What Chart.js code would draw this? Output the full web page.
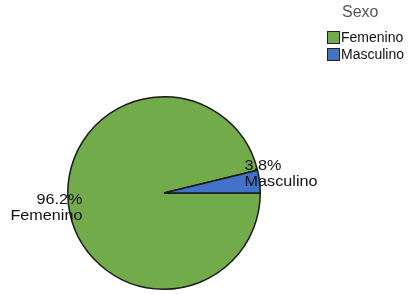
<!DOCTYPE html>
<html>
<head>
<meta charset="utf-8">
<script src="https://cdn.jsdelivr.net/npm/chart.js@4"></script>
<style>
  html, body { margin: 0; padding: 0; background: #fff; }
  #wrap { width: 412px; height: 294px; position: relative; }
</style>
</head>
<body>
<div id="wrap"><canvas id="pieChart" width="412" height="294"></canvas></div>
<script>
// data
const categories = ["Femenino", "Masculino"];
const percents = [96.2, 3.8];
const sliceColors = ["#72ab49", "#4373c8"];
const legendTitle = "Sexo";

// label placement per slice (offset from the arc midpoint on the rim)
const labelAlign = ["right", "left"];
const labelOffsetX = [14, -15];
const labelOffsetY = [-5, -16];

// Slice labels drawn at the outer edge of each arc
const sliceLabels = {
    id: "sliceLabels",
    afterDatasetsDraw(chart) {
        const ctx = chart.ctx;
        const meta = chart.getDatasetMeta(0);
        const stretch = 1.08; // reference text is a bit wider
        meta.data.forEach((arc, i) => {
            const mid = (arc.startAngle + arc.endAngle) / 2;
            const px = arc.x + Math.cos(mid) * arc.outerRadius;
            const py = arc.y + Math.sin(mid) * arc.outerRadius;
            const x = px + labelOffsetX[i];
            const y = py + labelOffsetY[i];
            ctx.save();
            ctx.translate(x, y);
            ctx.scale(stretch, 1);
            ctx.font = "15px 'Liberation Sans', Arial, sans-serif";
            ctx.fillStyle = "#111";
            ctx.textBaseline = "middle";
            ctx.textAlign = labelAlign[i];
            ctx.fillText(percents[i].toFixed(1) + "%", 0, 0);
            ctx.fillText(categories[i], 0, 16);
            ctx.restore();
        });
    }
};

// Legend in the top right corner, SPSS style
const cornerLegend = {
    id: "cornerLegend",
    afterDraw(chart) {
        const ctx = chart.ctx;
        ctx.save();
        ctx.font = "16px 'Liberation Sans', Arial, sans-serif";
        ctx.fillStyle = "#555";
        ctx.textAlign = "left";
        ctx.textBaseline = "middle";
        ctx.fillText(legendTitle, 342, 13);
        ctx.font = "14px 'Liberation Sans', Arial, sans-serif";
        categories.forEach((name, i) => {
            const y = 31 + i * 17;
            ctx.fillStyle = sliceColors[i];
            ctx.fillRect(327, y, 13, 13);
            ctx.strokeStyle = "#222";
            ctx.lineWidth = 1;
            ctx.strokeRect(327.5, y + 0.5, 12, 12);
            ctx.fillStyle = "#111";
            ctx.fillText(name, 341, y + 7);
        });
        ctx.restore();
    }
};

const ctx = document.getElementById("pieChart").getContext("2d");
new Chart(ctx, {
    type: "pie",
    data: {
        labels: categories,
        datasets: [{
            data: percents,
            backgroundColor: sliceColors,
            borderColor: "#1a1a1a",
            borderWidth: 1.5
        }]
    },
    options: {
        responsive: false,
        animation: false,
        rotation: 90,
        layout: {
            padding: { left: 67, right: 151, top: 96, bottom: 4 }
        },
        plugins: {
            legend: { display: false },
            tooltip: { enabled: false }
        }
    },
    plugins: [sliceLabels, cornerLegend]
});
</script>
</body>
</html>
